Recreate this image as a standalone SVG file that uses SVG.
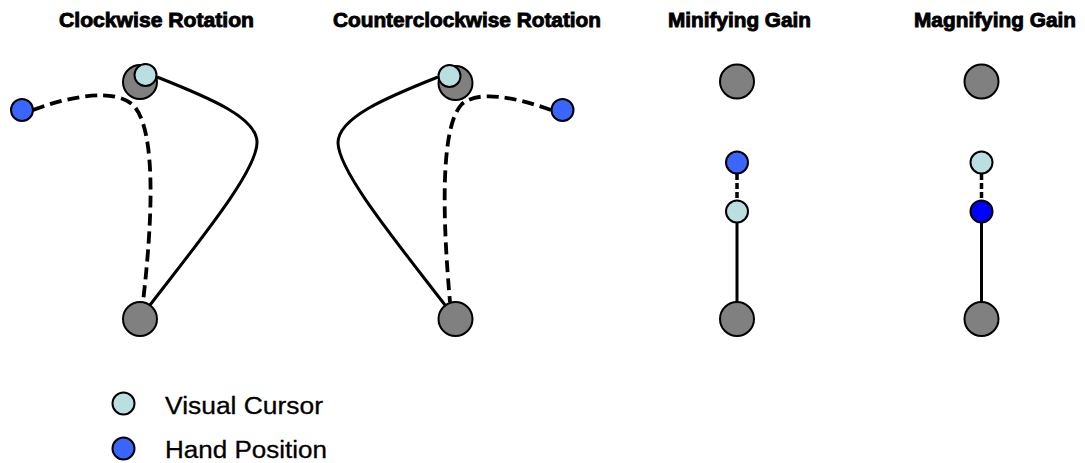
<svg xmlns="http://www.w3.org/2000/svg" width="1085" height="463" viewBox="0 0 1085 463">
<style>
.title{font-family:"Liberation Sans",Arial,sans-serif;font-weight:bold;font-size:20.5px;fill:#000;stroke:#000;stroke-width:0.9px;text-anchor:middle}
.leg{font-family:"Liberation Sans",Arial,sans-serif;font-size:23px;fill:#000;stroke:#000;stroke-width:0.3px}
.target{fill:#808080;stroke:#000;stroke-width:2}
.cursor{fill:#BADFE0;stroke:#000;stroke-width:2}
.hand{fill:#3A66FF;stroke:#000;stroke-width:2}
.handdark{fill:#0000FF;stroke:#000;stroke-width:2}
.solid{fill:none;stroke:#000;stroke-width:3}
.dash{fill:none;stroke:#000;stroke-width:3.8;stroke-dasharray:12 6}
.dot{fill:none;stroke:#000;stroke-width:3.5;stroke-dasharray:6 3}
</style>
<g id="titles">
<text class="title" x="156.5" y="27" textLength="195" lengthAdjust="spacingAndGlyphs">Clockwise Rotation</text>
<text class="title" x="467" y="27" textLength="268" lengthAdjust="spacingAndGlyphs">Counterclockwise Rotation</text>
<text class="title" x="739.5" y="27" textLength="143" lengthAdjust="spacingAndGlyphs">Minifying Gain</text>
<text class="title" x="995" y="27" textLength="162" lengthAdjust="spacingAndGlyphs">Magnifying Gain</text>
</g>
<g id="connectors">
<path class="dash" d="M33,110 C70,96 115,88 133,105 C152,124 156,190 143,302"/>
<path class="solid" d="M157,77 C210,98 258,118 257,143 C256,172 200,240 150,305"/>
<path class="dash" d="M551,110 C515,97 478,90 462,104 C444,122 440,190 450,302"/>
<path class="solid" d="M438,77 C385,98 338,118 338,143 C339,172 395,240 445,305"/>
<path class="dot" d="M737,174 V200"/>
<path class="solid" d="M737,223 V302"/>
<path class="dot" d="M981.5,174 V200"/>
<path class="solid" d="M981.5,223 V302"/>
</g>
<g id="cw-start"><circle class="target" cx="140" cy="82" r="17"/></g>
<g id="cw-cursor"><circle class="cursor" cx="145.5" cy="75" r="11"/></g>
<g id="cw-hand"><circle class="hand" cx="22" cy="110" r="11"/></g>
<g id="cw-end"><circle class="target" cx="140" cy="319" r="17"/></g>
<g id="ccw-start"><circle class="target" cx="455.5" cy="83" r="17"/></g>
<g id="ccw-cursor"><circle class="cursor" cx="449.5" cy="76" r="11"/></g>
<g id="ccw-hand"><circle class="hand" cx="562.5" cy="110" r="11"/></g>
<g id="ccw-end"><circle class="target" cx="455.5" cy="319" r="17"/></g>
<g id="min-top"><circle class="target" cx="737" cy="81.5" r="17"/></g>
<g id="min-hand"><circle class="hand" cx="737" cy="162.5" r="11"/></g>
<g id="min-cursor"><circle class="cursor" cx="737" cy="211.5" r="11"/></g>
<g id="min-end"><circle class="target" cx="737" cy="319" r="17"/></g>
<g id="mag-top"><circle class="target" cx="981.5" cy="81.5" r="17"/></g>
<g id="mag-cursor"><circle class="cursor" cx="981.5" cy="162.5" r="11"/></g>
<g id="mag-hand"><circle class="handdark" cx="981.5" cy="211.5" r="11"/></g>
<g id="mag-end"><circle class="target" cx="981.5" cy="319" r="17"/></g>
<g id="legend">
<circle class="cursor" cx="123.5" cy="403.5" r="11"/>
<text class="leg" x="165" y="414" textLength="158" lengthAdjust="spacingAndGlyphs">Visual Cursor</text>
<circle class="hand" cx="123.5" cy="448.5" r="11"/>
<text class="leg" x="165" y="458" textLength="162" lengthAdjust="spacingAndGlyphs">Hand Position</text>
</g>
</svg>
